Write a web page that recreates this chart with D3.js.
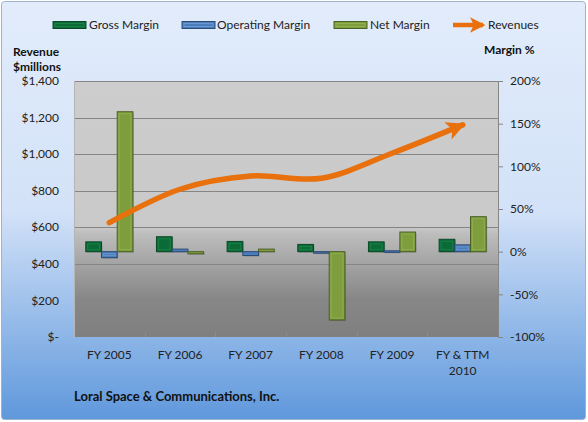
<!DOCTYPE html>
<html>
<head>
<meta charset="utf-8">
<script src="https://cdn.jsdelivr.net/npm/d3@7"></script>
<style>
  html, body { margin: 0; padding: 0; background: #fff; }
  svg { display: block; font-family: Lato, "Open Sans", sans-serif; }
</style>
</head>
<body>
<svg id="chart" width="588" height="422"></svg>
<script>
// values
const categories = ["FY 2005", "FY 2006", "FY 2007", "FY 2008", "FY 2009", "FY & TTM 2010"];
const grossMargin = [11.5, 17.5, 12, 8.5, 11.5, 14.5];      // %
const operatingMargin = [-7, 3, -4.5, -0.5, 1, 8];          // %
const netMargin = [164, -2.5, 3, -80, 23, 41];               // %
const revenues = [625, 808, 880, 868, 1005, 1160];           // $ millions
const revTicks = [0, 200, 400, 600, 800, 1000, 1200, 1400];
const pctTicks = [-100, -50, 0, 50, 100, 150, 200];

const svg = d3.select("#chart");
const L = 74, R = 498, T = 81, B = 337;
const defs = svg.append("defs");

// backgrounds
const bg = defs.append("linearGradient").attr("id", "bg").attr("x1", 0).attr("y1", 0).attr("x2", 0).attr("y2", 1);
bg.append("stop").attr("offset", 0).attr("stop-color", "#e2ecfb");
bg.append("stop").attr("offset", 0.5).attr("stop-color", "#d3e2f8");
bg.append("stop").attr("offset", 1).attr("stop-color", "#5f98dc");
const pg = defs.append("linearGradient").attr("id", "plotbg").attr("x1", 0).attr("y1", 0).attr("x2", 0).attr("y2", 1);
pg.append("stop").attr("offset", 0).attr("stop-color", "#cdcdcd");
pg.append("stop").attr("offset", 0.57).attr("stop-color", "#c9c9c9");
pg.append("stop").attr("offset", 0.6).attr("stop-color", "#bcbcbc");
pg.append("stop").attr("offset", 0.85).attr("stop-color", "#878787");
pg.append("stop").attr("offset", 1).attr("stop-color", "#7f7f7f");

svg.append("rect").attr("x", 1.5).attr("y", 1.5).attr("width", 584).attr("height", 418).attr("rx", 3)
  .attr("fill", "url(#bg)").attr("stroke", "#9db2cc");
svg.append("rect").attr("x", L).attr("y", T).attr("width", R - L).attr("height", B - T).attr("fill", "url(#plotbg)");

// scales
const x0 = d3.scaleBand().domain(categories).range([L, R]);
const bw = x0.bandwidth(), gw = bw * 3 / 4.5;
const series = ["gross", "operating", "net"];
const x1 = d3.scaleBand().domain(series).range([(bw - gw) / 2, (bw + gw) / 2]);
const yL = d3.scaleLinear().domain([0, 1400]).range([B, T]);
const yR = d3.scaleLinear().domain([-100, 200]).range([B, T]);

// gridlines (left axis)
svg.append("g").selectAll("line").data(revTicks.filter((d) => d > 0)).join("line")
  .attr("x1", L).attr("x2", R).attr("y1", (d) => Math.round(yL(d)) + 0.5).attr("y2", (d) => Math.round(yL(d)) + 0.5)
  .attr("stroke", "#858585").attr("stroke-width", 1);
svg.append("line").attr("x1", L + 0.5).attr("x2", L + 0.5).attr("y1", T).attr("y2", B).attr("stroke", "#b5b5b5");

// left axis labels
const fmtRev = (d) => (d === 0 ? "$-" : "$" + d3.format(",")(d));
svg.append("g").selectAll("text").data(revTicks).join("text")
  .attr("x", 59).attr("y", (d) => yL(d)).attr("dy", "0.35em").attr("text-anchor", "end")
  .attr("font-size", 12).attr("fill", "#222").text(fmtRev);

// right axis
const ax = svg.append("g").attr("transform", `translate(${R},0)`)
  .call(d3.axisRight(yR).tickValues(pctTicks).tickSize(5).tickPadding(7).tickFormat((d) => d + "%"));
ax.select(".domain").attr("stroke", "#868686");
ax.selectAll(".tick line").attr("stroke", "#868686");
ax.selectAll("text").attr("font-size", 12).attr("fill", "#222").attr("font-family", "Lato, 'Open Sans', sans-serif");

// category ticks & labels
svg.append("g").selectAll("line").data(categories.slice(1)).join("line")
  .attr("x1", (d) => Math.round(x0(d)) + 0.5).attr("x2", (d) => Math.round(x0(d)) + 0.5)
  .attr("y1", B - 5).attr("y2", B).attr("stroke", "#8c8c8c");
const xl = svg.append("g").selectAll("text").data(categories).join("text")
  .attr("x", (d) => x0(d) + bw / 2).attr("y", 359).attr("text-anchor", "middle")
  .attr("font-size", 12).attr("fill", "#222");
xl.each(function (d) {
  const parts = d === "FY & TTM 2010" ? ["FY & TTM", "2010"] : [d];
  d3.select(this).selectAll("tspan").data(parts).join("tspan")
    .attr("x", x0(d) + bw / 2).attr("dy", (p, i) => (i ? 16 : 0)).text((p) => p);
});

// bars
const barStyle = {
  gross: { fill: "#0b6b37", edge: "#0a4a27", hi: "#2f9a5c" },
  operating: { fill: "#4a7dbb", edge: "#2b4c74", hi: "#8fb4e3" },
  net: { fill: "#7e9e3e", edge: "#4c6126", hi: "#a3c063" },
};
const rows = categories.map((c, i) => ({
  cat: c,
  vals: [
    { s: "gross", v: grossMargin[i] },
    { s: "operating", v: operatingMargin[i] },
    { s: "net", v: netMargin[i] },
  ],
}));
const grp = svg.append("g").selectAll("g").data(rows).join("g").attr("transform", (d) => `translate(${x0(d.cat)},0)`);
const bar = grp.selectAll("g").data((d) => d.vals).join("g");
bar.append("rect")
  .attr("x", (d) => x1(d.s) + 1).attr("y", (d) => Math.min(yR(d.v), yR(0)) + 1)
  .attr("width", x1.bandwidth()).attr("height", (d) => Math.max(1.5, Math.abs(yR(d.v) - yR(0))))
  .attr("fill", "#000").attr("opacity", 0.18);
bar.append("rect")
  .attr("x", (d) => x1(d.s)).attr("y", (d) => Math.min(yR(d.v), yR(0)))
  .attr("width", x1.bandwidth()).attr("height", (d) => Math.max(1.5, Math.abs(yR(d.v) - yR(0))))
  .attr("fill", (d) => barStyle[d.s].fill).attr("stroke", (d) => barStyle[d.s].edge).attr("stroke-width", 1);
bar.filter((d) => Math.abs(yR(d.v) - yR(0)) > 5).append("rect")
  .attr("x", (d) => x1(d.s) + 2).attr("y", (d) => Math.min(yR(d.v), yR(0)) + 2)
  .attr("width", x1.bandwidth() - 4).attr("height", (d) => Math.abs(yR(d.v) - yR(0)) - 4)
  .attr("fill", "none").attr("stroke", (d) => barStyle[d.s].hi).attr("stroke-opacity", 0.45).attr("stroke-width", 1);

// revenue line with arrow
const ORANGE = "#e8700d";
defs.append("marker").attr("id", "arrow").attr("viewBox", "0 0 10 10").attr("refX", 8.5).attr("refY", 5)
  .attr("markerWidth", 3.4).attr("markerHeight", 3.4).attr("orient", "auto").attr("markerUnits", "strokeWidth")
  .append("path").attr("d", "M0,0 L10,5 L0,10 L2.5,5 Z").attr("fill", ORANGE);
const line = d3.line().x((d, i) => x0(categories[i]) + bw / 2).y((d) => yL(d)).curve(d3.curveCatmullRom.alpha(0.5));
svg.append("path").datum(revenues).attr("d", line).attr("fill", "none")
  .attr("stroke", ORANGE).attr("stroke-width", 5.5).attr("stroke-linecap", "round").attr("marker-end", "url(#arrow)");

// legend
const LY = 25;
const legend = [
  { label: "Gross Margin", s: "gross", sx: 53, tx: 89 },
  { label: "Operating Margin", s: "operating", sx: 182, tx: 217 },
  { label: "Net Margin", s: "net", sx: 334, tx: 370 },
];
const lg = svg.append("g").selectAll("g").data(legend).join("g");
lg.append("rect").attr("x", (d) => d.sx).attr("y", LY - 3.5).attr("width", 33).attr("height", 7)
  .attr("fill", (d) => barStyle[d.s].fill).attr("stroke", (d) => barStyle[d.s].edge);
lg.append("rect").attr("x", (d) => d.sx + 2).attr("y", LY - 1.5).attr("width", 29).attr("height", 3)
  .attr("fill", "none").attr("stroke", (d) => barStyle[d.s].hi).attr("stroke-opacity", 0.5);
lg.append("text").attr("x", (d) => d.tx).attr("y", LY).attr("dy", "0.35em").attr("font-size", 12).attr("fill", "#222").text((d) => d.label);
svg.append("line").attr("x1", 453).attr("x2", 483).attr("y1", LY).attr("y2", LY)
  .attr("stroke", ORANGE).attr("stroke-width", 4.5).attr("marker-end", "url(#arrow)");
svg.append("text").attr("x", 488).attr("y", LY).attr("dy", "0.35em").attr("font-size", 12).attr("fill", "#222").text("Revenues");

// axis titles & chart title
svg.append("text").attr("x", 13).attr("y", 52).attr("dy", "0.35em").attr("font-size", 12).attr("font-weight", "bold").attr("fill", "#111").text("Revenue");
svg.append("text").attr("x", 13).attr("y", 67).attr("dy", "0.35em").attr("font-size", 12).attr("font-weight", "bold").attr("fill", "#111").text("$millions");
svg.append("text").attr("x", 484).attr("y", 50).attr("dy", "0.35em").attr("font-size", 12).attr("font-weight", "bold").attr("fill", "#111").text("Margin %");
svg.append("text").attr("x", 74).attr("y", 396).attr("dy", "0.35em").attr("font-size", 13).attr("font-weight", "bold").attr("fill", "#111").text("Loral Space & Communications, Inc.");
</script>
</body>
</html>
